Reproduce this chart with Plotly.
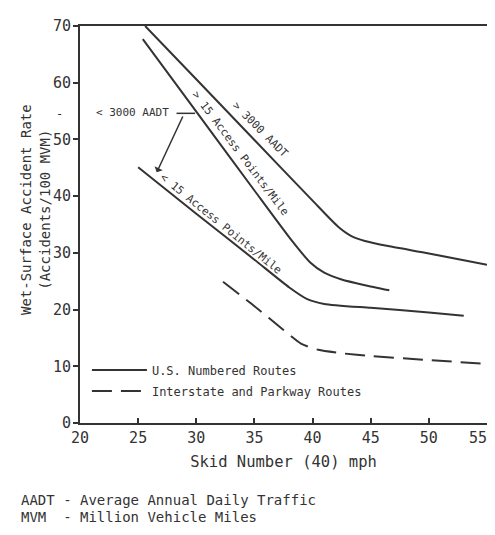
import plotly.graph_objects as go

# ---- data ----
hi_aadt_x = [25.6, 30.0, 35.0, 40.0, 42.2, 43.3, 44.5, 46.5, 50.0, 55.0]
hi_aadt_y = [70.0, 60.6, 49.9, 39.2, 34.6, 33.0, 32.1, 31.2, 29.9, 27.9]

hi_access_x = [25.4, 30.0, 35.0, 38.2, 39.8, 41.0, 42.5, 44.5, 46.6]
hi_access_y = [67.7, 54.9, 41.0, 32.2, 28.3, 26.5, 25.3, 24.3, 23.4]

lo_access_x = [25.0, 30.0, 35.0, 38.0, 39.5, 41.0, 45.0, 50.0, 53.0]
lo_access_y = [45.1, 36.9, 28.8, 23.9, 21.9, 21.0, 20.3, 19.5, 18.9]

interstate_x = [32.3, 35.0, 37.5, 39.0, 40.5, 42.5, 45.0, 50.0, 55.0]
interstate_y = [24.9, 20.6, 16.4, 14.0, 12.9, 12.3, 11.8, 11.1, 10.4]

x_ticks = [20, 25, 30, 35, 40, 45, 50, 55]
x_tick_labels = ["20", "25", "30", "35", "40", "45", "50", "55\u00a0\u00a0"]
y_ticks = [0, 10, 20, 30, 40, 50, 60, 70]

legend_names = ["U.S. Numbered Routes", "Interstate and Parkway Routes"]

label_hi_aadt = "> 3000 AADT"
label_lo_aadt = "< 3000 AADT"
label_hi_access = "> 15 Access Points/Mile"
label_lo_access = "< 15 Access Points/Mile"

x_title = "Skid Number (40) mph"
y_title = "Wet-Surface Accident Rate<br>(Accidents/100 MVM)"
footnotes = ["AADT - Average Annual Daily Traffic", "MVM  - Million Vehicle Miles"]

# bracket from the "< 3000 AADT" label
bracket_h_x = [28.3, 29.9]
bracket_h_y = [54.6, 54.6]
bracket_arrow_from = (28.9, 54.3)
bracket_arrow_to = (26.6, 44.2)

# ---- styling ----
INK = "#333333"
FONT = "DejaVu Sans Mono"

fig = go.Figure()

solid = dict(color=INK, width=2)
fig.add_trace(go.Scatter(x=hi_aadt_x, y=hi_aadt_y, mode="lines", line=dict(solid, shape="spline", smoothing=0.6),
                         name=legend_names[0], legendgroup="us", showlegend=True))
fig.add_trace(go.Scatter(x=hi_access_x, y=hi_access_y, mode="lines", line=dict(solid, shape="spline", smoothing=0.6),
                         name=legend_names[0], legendgroup="us", showlegend=False))
fig.add_trace(go.Scatter(x=lo_access_x, y=lo_access_y, mode="lines", line=dict(solid, shape="spline", smoothing=0.6),
                         name=legend_names[0], legendgroup="us", showlegend=False))
fig.add_trace(go.Scatter(x=interstate_x, y=interstate_y, mode="lines",
                         line=dict(color=INK, width=2, dash="20px,9px", shape="spline", smoothing=0.6),
                         name=legend_names[1], legendgroup="int", showlegend=True))

# bracket lines
fig.add_trace(go.Scatter(x=bracket_h_x, y=bracket_h_y, mode="lines", line=dict(color=INK, width=1.5),
                         showlegend=False, hoverinfo="skip"))
fig.add_annotation(x=bracket_arrow_to[0], y=bracket_arrow_to[1], ax=bracket_arrow_from[0], ay=bracket_arrow_from[1],
                   xref="x", yref="y", axref="x", ayref="y", text="", showarrow=True,
                   arrowhead=1, arrowsize=1, arrowwidth=1.5, arrowcolor=INK)

lab_font = dict(family=FONT, size=11, color=INK)
fig.add_annotation(x=35.5, y=51.8, xref="x", yref="y", text=label_hi_aadt, showarrow=False,
                   textangle=45, font=lab_font)
fig.add_annotation(x=33.8, y=47.5, xref="x", yref="y", text=label_hi_access, showarrow=False,
                   textangle=53, font=lab_font)
fig.add_annotation(x=32.1, y=35.2, xref="x", yref="y", text=label_lo_access, showarrow=False,
                   textangle=39, font=lab_font)
fig.add_annotation(x=27.8, y=54.7, xref="x", yref="y", text=label_lo_aadt, showarrow=False,
                   xanchor="right", font=lab_font)

# small stray dash left of the axis
fig.add_annotation(x=-0.064, y=0.80, xref="paper", yref="paper", text="-", showarrow=False,
                   font=dict(family=FONT, size=12, color=INK))

# y-axis title (two lines, rotated)
fig.add_annotation(x=-0.11, y=0.537, xref="paper", yref="paper", text=y_title, showarrow=False,
                   textangle=-90, xanchor="center", yanchor="middle",
                   font=dict(family=FONT, size=14, color=INK))

# footnotes
for i, t in enumerate(footnotes):
    fig.add_annotation(x=-0.15, y=-0.193 - i * 0.043, xref="paper", yref="paper", text=t,
                       showarrow=False, xanchor="left", yanchor="middle",
                       font=dict(family=FONT, size=14, color=INK))

# page body has an 8px margin; keep the figure inside the window
fig.update_layout(
    width=487, height=519,
    margin=dict(l=72, r=8, t=18, b=104, autoexpand=False),
    paper_bgcolor="white", plot_bgcolor="white",
    font=dict(family=FONT, color=INK),
    showlegend=True,
    legend=dict(x=0.017, y=0.17, xanchor="left", yanchor="top", bgcolor="rgba(0,0,0,0)",
                font=dict(family=FONT, size=12, color=INK), tracegroupgap=2, itemwidth=55),
    xaxis=dict(range=[20, 55], tickvals=x_ticks, ticktext=x_tick_labels, showgrid=False, zeroline=False,
               automargin=False, showline=True, linecolor=INK, linewidth=2, mirror=True,
               ticks="inside", ticklen=5, tickcolor=INK, tickwidth=1.5, ticklabeloverflow="allow",
               tickfont=dict(family=FONT, size=15, color=INK),
               title=dict(text=x_title, font=dict(family=FONT, size=15.5, color=INK), standoff=10)),
    yaxis=dict(range=[0, 70], tickvals=y_ticks, showgrid=False, zeroline=False, automargin=False,
               showline=True, linecolor=INK, linewidth=2, mirror=True,
               ticks="outside", ticklen=5, tickcolor=INK, tickwidth=1.5, ticklabeloverflow="allow",
               ticklabelstandoff=-1,
               tickfont=dict(family=FONT, size=15, color=INK)),
)

fig.write_html("out.html")
